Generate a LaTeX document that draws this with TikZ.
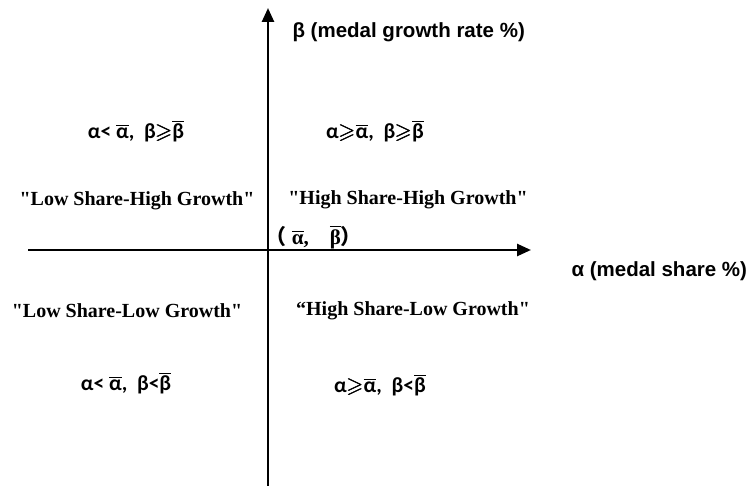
\documentclass[tikz,border=0pt]{standalone}
\usepackage{amsmath,amssymb}
\usepackage{fontspec}
\setmainfont{Liberation Serif}
\setsansfont{Liberation Sans}
\newfontfamily\formfont{Carlito}
\newfontfamily\cjk{Noto Sans CJK SC}
\usetikzlibrary{arrows.meta}
\newcommand{\mbar}[1]{\ensuremath{\overline{\mbox{#1}}}}
\newcommand{\mgeq}{\ensuremath{\pmb{\geqslant}}}
\newcommand{\qq}{\textquotedbl}

\begin{document}
\begin{tikzpicture}[x=1pt,y=-1pt,
  axis/.style={line width=2.5pt,-{Triangle[length=14pt,width=12pt]}},
  quad/.style={font=\fontsize{20}{24}\selectfont\bfseries},
  cond/.style={font=\fontsize{21.5}{24}\selectfont\formfont\bfseries},
  axlabel/.style={font=\fontsize{20.5}{24}\selectfont\sffamily\bfseries,anchor=west}]
\useasboundingbox(0,0)rectangle(747,486);
\coordinate(ybot)at(268,486);
\coordinate(ytop)at(268,8);
\coordinate(xleft)at(28,250);
\coordinate(xright)at(531,250);
\draw[axis](ybot)--(ytop);
\draw[axis](xleft)--(xright);
\node[axlabel](ylab)at(289,32){β (medal growth rate \%)};
\node[axlabel](xlab)at(568,271){α (medal share \%)};
%%% quadrants
\node[cond](tlcond)at(136,131){α< \mbar{α},\ \ β\mgeq\mbar{β}};
\node[cond](trcond)at(375,131){α\mgeq\mbar{α},\ \ β\mgeq\mbar{β}};
\node[quad](lowhigh)at(137,201){\qq Low Share-High Growth\qq};
\node[quad](highhigh)at(408,200){\qq High Share-High Growth\qq};
\node[font=\fontsize{21}{24}\selectfont\bfseries,anchor=west](mean)at(262,237){{\cjk （}\ \mbar{α},\ \ \ \ \mbar{β}{\cjk ）}};
\node[quad](lowlow)at(127,311){\qq Low Share-Low Growth\qq};
\node[quad](highlow)at(413,311){“High Share-Low Growth\qq};
\node[cond](blcond)at(126,383){α< \mbar{α},\ \ β<\mbar{β}};
\node[cond](brcond)at(380,385){α\mgeq\mbar{α},\ \ β<\mbar{β}};
\end{tikzpicture}
\end{document}
